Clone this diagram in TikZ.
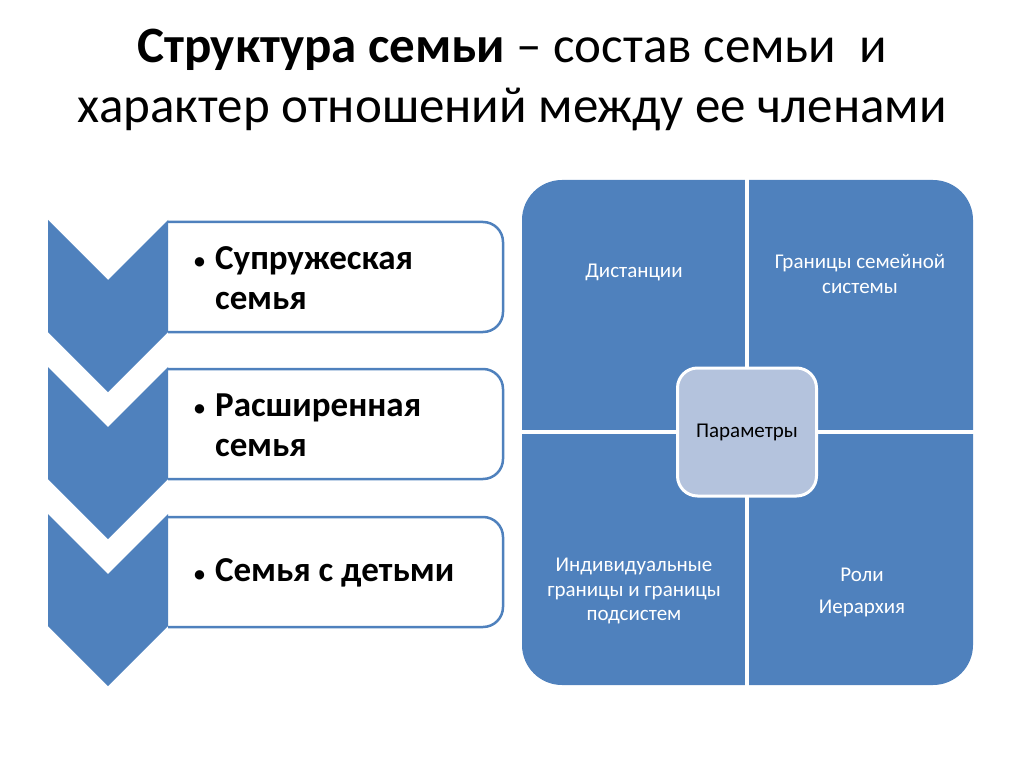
\documentclass[tikz,border=0pt]{standalone}
\usepackage{fontspec}
\setmainfont{Carlito}
\definecolor{accent}{HTML}{4F81BD}
\definecolor{centerfill}{HTML}{B4C3DD}
\newcommand{\smbullet}{\llap{\raisebox{0.5pt}{\fontsize{22}{22}\selectfont•}\hskip 10pt}}
\tikzset{
  chev/.style={fill=accent, draw=none},
  itembox/.style={fill=white, draw=accent, line width=2.5pt, rounded corners=20pt},
  itemtext/.style={anchor=west, align=left, font=\fontsize{35}{40}\selectfont\bfseries, inner sep=0pt},
  quadtext/.style={align=center, text=white, font=\fontsize{21}{24.5}\selectfont, inner sep=0pt},
  gap/.style={draw=white, line width=3.5pt},
}
\begin{document}
\begin{tikzpicture}[x=1pt,y=-1pt]
\useasboundingbox (0,0) rectangle (1024,767);
% title
\node[align=center, inner sep=0pt, font=\fontsize{51}{60}\selectfont] (title) at (512,80)
  {\textbf{Структура семьи} – состав семьи\ \ и\\характер отношений между ее членами};
% left list boxes
\foreach \t/\n in {222/1,369/2,517/3}{
  \path[itembox] (168,\t) -- (503,\t) -- (503,\t+110) -- (168,\t+110);
}
% chevrons
\foreach \t/\n in {220/1,367/2,514/3}{
  \fill[chev] (48,\t) -- (108,\t+60) -- (168,\t) -- (168,\t+112) -- (108,\t+172) -- (48,\t+112) -- cycle;
}
\node[itemtext] (b1) at (215,278) {\smbullet Супружеская\\семья};
\node[itemtext] (b2) at (215,425) {\smbullet Расширенная\\семья};
\node[itemtext] (b3) at (215,573) {\smbullet Семья с детьми};
% matrix
\fill[accent, rounded corners=40pt] (522,180) rectangle (973,685);
\draw[gap] (747,178) -- (747,687);
\draw[gap] (520,432) -- (975,432);
\node[quadtext] (q1) at (634,272) {Дистанции};
\node[quadtext] (q2) at (860,274) {Границы семейной\\системы};
\node[quadtext] (q3) at (634,591) {Индивидуальные\\границы и границы\\подсистем};
\node[quadtext, font=\fontsize{21}{32}\selectfont] (q4) at (862,592) {Роли\\Иерархия};
\node[fill=centerfill, draw=white, line width=3pt, rounded corners=20pt,
      minimum width=139pt, minimum height=128pt, inner sep=0pt,
      font=\fontsize{21}{24}\selectfont] (center) at (747,432) {Параметры};
\end{tikzpicture}
\end{document}
